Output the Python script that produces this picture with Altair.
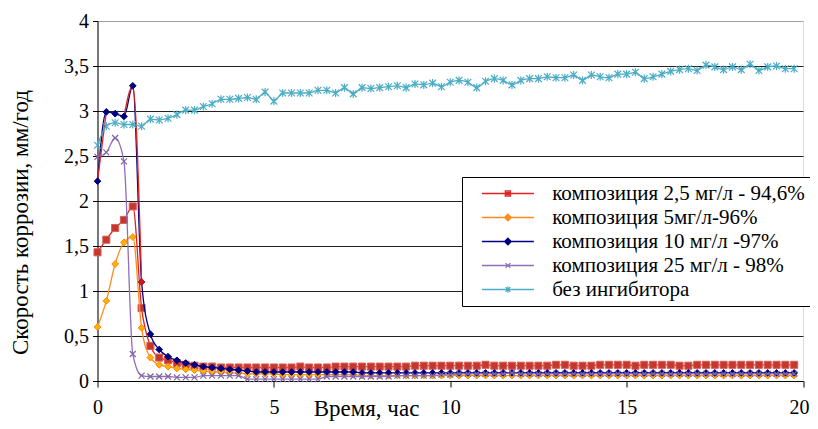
import altair as alt
import pandas as pd

time_h = [i * 0.25 for i in range(80)]

series_names = [
    "композиция 2,5 мг/л - 94,6%",
    "композиция 5мг/л-96%",
    "композиция 10 мг/л -97%",
    "композиция 25 мг/л - 98%",
    "без ингибитора",
]

comp_2_5 = [1.43, 1.57, 1.70, 1.79, 1.94, 0.81, 0.39, 0.26, 0.23, 0.20,
            0.18, 0.17, 0.16, 0.16, 0.15, 0.15, 0.15, 0.15, 0.15, 0.15,
            0.15, 0.15, 0.15, 0.16, 0.15, 0.15, 0.15, 0.16, 0.16, 0.16,
            0.16, 0.16, 0.16, 0.16, 0.16, 0.16, 0.17, 0.17, 0.17, 0.17,
            0.17, 0.17, 0.17, 0.17, 0.18, 0.17, 0.17, 0.17, 0.17, 0.17,
            0.17, 0.17, 0.18, 0.18, 0.17, 0.17, 0.17, 0.18, 0.18, 0.18,
            0.18, 0.17, 0.18, 0.18, 0.18, 0.18, 0.17, 0.17, 0.18, 0.18,
            0.18, 0.18, 0.18, 0.18, 0.18, 0.18, 0.18, 0.18, 0.18, 0.18]

comp_5 = [0.60, 0.89, 1.30, 1.54, 1.60, 0.59, 0.26, 0.18, 0.16, 0.14,
          0.13, 0.12, 0.11, 0.10, 0.10, 0.09, 0.09, 0.08, 0.08, 0.08,
          0.08, 0.07, 0.07, 0.07, 0.07, 0.07, 0.07, 0.07, 0.07, 0.07,
          0.06, 0.06, 0.06, 0.06, 0.06, 0.06, 0.06, 0.06, 0.06, 0.06,
          0.06, 0.06, 0.06, 0.06, 0.06, 0.06, 0.06, 0.06, 0.06, 0.06,
          0.06, 0.06, 0.06, 0.06, 0.06, 0.06, 0.06, 0.06, 0.06, 0.06,
          0.06, 0.06, 0.06, 0.06, 0.06, 0.06, 0.06, 0.06, 0.06, 0.06,
          0.06, 0.06, 0.06, 0.06, 0.06, 0.06, 0.06, 0.06, 0.06, 0.06]

comp_10 = [2.22, 2.99, 2.97, 2.94, 3.28, 1.10, 0.52, 0.35, 0.27, 0.23,
           0.20, 0.18, 0.16, 0.15, 0.14, 0.13, 0.12, 0.11, 0.10, 0.10,
           0.10, 0.10, 0.10, 0.10, 0.10, 0.10, 0.10, 0.10, 0.10, 0.10,
           0.09, 0.09, 0.09, 0.09, 0.09, 0.09, 0.09, 0.09, 0.09, 0.09,
           0.09, 0.09, 0.09, 0.09, 0.09, 0.09, 0.09, 0.09, 0.09, 0.09,
           0.09, 0.09, 0.09, 0.09, 0.09, 0.09, 0.09, 0.09, 0.09, 0.09,
           0.09, 0.09, 0.09, 0.09, 0.09, 0.09, 0.09, 0.09, 0.09, 0.09,
           0.09, 0.09, 0.09, 0.09, 0.09, 0.09, 0.09, 0.09, 0.09, 0.09]

comp_25 = [2.49, 2.54, 2.70, 2.44, 0.30, 0.06, 0.05, 0.05, 0.05, 0.04,
           0.04, 0.04, 0.06, 0.06, 0.06, 0.06, 0.06, 0.02, 0.02, 0.02,
           0.02, 0.02, 0.02, 0.02, 0.02, 0.02, 0.05, 0.05, 0.05, 0.05,
           0.05, 0.05, 0.05, 0.05, 0.06, 0.06, 0.06, 0.06, 0.06, 0.07,
           0.07, 0.08, 0.08, 0.08, 0.08, 0.08, 0.08, 0.09, 0.08, 0.08,
           0.08, 0.08, 0.08, 0.08, 0.08, 0.08, 0.08, 0.08, 0.08, 0.08,
           0.08, 0.08, 0.08, 0.08, 0.08, 0.08, 0.08, 0.08, 0.08, 0.08,
           0.08, 0.08, 0.08, 0.08, 0.08, 0.08, 0.08, 0.08, 0.08, 0.08]

no_inhib = [2.62, 2.83, 2.87, 2.85, 2.85, 2.83, 2.91, 2.90, 2.92, 2.96,
            3.01, 3.01, 3.05, 3.08, 3.13, 3.13, 3.14, 3.15, 3.13, 3.21,
            3.11, 3.20, 3.20, 3.20, 3.20, 3.23, 3.23, 3.20, 3.26, 3.19,
            3.26, 3.25, 3.26, 3.27, 3.28, 3.26, 3.30, 3.29, 3.31, 3.27,
            3.32, 3.34, 3.32, 3.26, 3.33, 3.36, 3.34, 3.29, 3.34, 3.36,
            3.36, 3.38, 3.37, 3.37, 3.40, 3.34, 3.40, 3.38, 3.37, 3.41,
            3.41, 3.43, 3.36, 3.38, 3.41, 3.44, 3.46, 3.47, 3.45, 3.51,
            3.49, 3.46, 3.49, 3.46, 3.52, 3.45, 3.49, 3.50, 3.47, 3.47]

x_ticks = [0, 5, 10, 15, 20]
y_ticks = [0, 0.5, 1, 1.5, 2, 2.5, 3, 3.5, 4]

line_colors = ["#e02424", "#ff8c1a", "#000080", "#8e6fb8", "#4bacc6"]

rows = []
for name, vals in zip(series_names, [comp_2_5, comp_5, comp_10, comp_25, no_inhib]):
    for i, (t, v) in enumerate(zip(time_h, vals)):
        rows.append({"t": t, "v": v, "s": name, "i": i})
df = pd.DataFrame(rows)

FONT = "Times New Roman"

X = alt.X("t:Q", scale=alt.Scale(domain=[0, 20], nice=False, zero=False),
          axis=alt.Axis(values=x_ticks, grid=False, tickSize=6, tickColor="black",
                        domainColor="black", labelFont=FONT, labelFontSize=20,
                        labelColor="black", labelPadding=10, labelFlush=False,
                        labelOverlap=False,
                        labelOffset={"condition": {"test": "datum.value >= 20", "value": -4}, "value": 0},
                        title="Время, час", titleFont=FONT,
                        titleFontSize=23, titleFontWeight="normal", titleColor="black",
                        titleX=268.5, titleY=34, titleBaseline="alphabetic",
                        titleAlign="center"))
Y = alt.Y("v:Q", scale=alt.Scale(domain=[0, 4], nice=False),
          axis=alt.Axis(values=y_ticks, grid=True,
                        gridColor={"condition": {"test": "datum.value >= 4", "value": "#a0a0a0"},
                                   "value": "#222222"},
                        gridWidth=1, tickSize=5, tickColor="black", domainColor="black",
                        labelFont=FONT, labelFontSize=20, labelColor="black", labelPadding=4,
                        labelOverlap=False,
                        labelExpr="replace(format(datum.value, '~g'), '.', ',')",
                        title="Скорость коррозии, мм/год", titleFont=FONT, titleFontSize=23,
                        titleFontWeight="normal", titleColor="black", titleX=-70.5, titleY=201,
                        titleBaseline="alphabetic", titleAlign="center", titleAngle=270))

base = alt.Chart(df)


def sel(name):
    return base.transform_filter(alt.datum.s == name)


LW = 1.3
layers = []
# 2.5 mg/l
layers.append(sel(series_names[0]).mark_line(color=line_colors[0], strokeWidth=LW, interpolate="monotone").encode(x=X, y=Y))
layers.append(sel(series_names[0]).mark_point(shape="square", filled=True, fill="#c0392b", stroke="#e05a5a",
                                                strokeWidth=1, size=50, opacity=1).encode(x=X, y=Y))
# 5 mg/l
layers.append(sel(series_names[1]).mark_line(color=line_colors[1], strokeWidth=LW, interpolate="monotone").encode(x=X, y=Y))
layers.append(sel(series_names[1]).mark_point(shape="diamond", filled=True, fill="#ffb300", stroke="#ff8000",
                                                strokeWidth=1, size=45, opacity=1).encode(x=X, y=Y))
# 10 mg/l
layers.append(sel(series_names[2]).mark_line(color=line_colors[2], strokeWidth=LW, interpolate="monotone").encode(x=X, y=Y))
layers.append(sel(series_names[2])
              .transform_filter("datum.i <= 1 || (datum.i >= 3 && datum.i <= 5)")
              .transform_calculate(seg="datum.i <= 1 ? 0 : 1")
              .mark_line(color="#e02424", strokeWidth=LW, interpolate="monotone")
              .encode(x=X, y=Y, detail="seg:N"))
layers.append(sel(series_names[2]).mark_point(shape="diamond", filled=True, fill="#000080", stroke="#000080",
                                                strokeWidth=1, size=45, opacity=1).encode(x=X, y=Y))
layers.append(sel(series_names[2]).transform_filter("datum.i == 5")
              .mark_point(shape="diamond", filled=True, fill="#d01818", stroke="#d01818",
                          strokeWidth=1, size=45, opacity=1).encode(x=X, y=Y))
# 25 mg/l
XPATH = "M-1,-1L1,1M-1,1L1,-1"
STAR = "M-1,-1L1,1M-1,1L1,-1M0,-1.2V1.2"
layers.append(sel(series_names[3]).mark_line(color=line_colors[3], strokeWidth=LW, interpolate="monotone").encode(x=X, y=Y))
layers.append(sel(series_names[3]).mark_point(shape=XPATH, filled=False, stroke="#8064a2",
                                                strokeWidth=1.2, size=36, opacity=1).encode(x=X, y=Y))
# no inhibitor
layers.append(sel(series_names[4]).mark_line(color=line_colors[4], strokeWidth=LW, interpolate="monotone").encode(x=X, y=Y))
layers.append(sel(series_names[4]).mark_point(shape=STAR, filled=False, stroke="#4bacc6",
                                                strokeWidth=1.2, size=45, opacity=1).encode(x=X, y=Y))

# legend symbols: line plus marker (size 36 -> 3 px per unit)
LINE = "M-1,0H16.33"
legend_paths = [
    LINE + "M6.8,-0.85H8.5V0.85H6.8ZM7.25,-0.4H8.05V0.4H7.25Z",
    LINE + "M7.67,-1.1L8.77,0L7.67,1.1L6.57,0ZM7.67,-0.5L8.17,0L7.67,0.5L7.17,0Z",
    LINE + "M7.67,-1.1L8.77,0L7.67,1.1L6.57,0ZM7.67,-0.5L8.17,0L7.67,0.5L7.17,0Z",
    LINE + "M6.87,-0.8L8.47,0.8M6.87,0.8L8.47,-0.8",
    LINE + "M6.87,-0.8L8.47,0.8M6.87,0.8L8.47,-0.8M7.67,-1V1",
]

leg = alt.Legend(title=None, orient="none", legendX=364.5, legendY=156,
                 fillColor="white", strokeColor="black", padding=6,
                 symbolSize=36, symbolOffset=6.4, labelOffset=56.8,
                 labelFont=FONT, labelFontSize=21, labelColor="black", labelLimit=600,
                 rowPadding=2, symbolStrokeWidth=1.3)

legend_layer = (base.transform_filter("datum.t < 0")
                .mark_point(filled=False, opacity=1, strokeWidth=1.3)
                .encode(x=X, y=Y,
                        color=alt.Color("s:N", scale=alt.Scale(domain=series_names, range=line_colors), legend=leg),
                        shape=alt.Shape("s:N", scale=alt.Scale(domain=series_names, range=legend_paths), legend=leg)))
layers.append(legend_layer)

chart = (alt.layer(*layers)
         .properties(width=705.5, height=360,
                     autosize=alt.AutoSizeParams(type="none"),
                     padding={"left": 89.5, "top": 13, "right": 7, "bottom": 40})
         .configure_view(stroke="#a0a0a0", strokeWidth=1.5)
         .configure(font=FONT, background="white",
                    style={"guide-label": {"font": FONT}, "guide-title": {"font": FONT}}))

chart.save("out.html", embed_options={"renderer": "svg", "actions": False})
